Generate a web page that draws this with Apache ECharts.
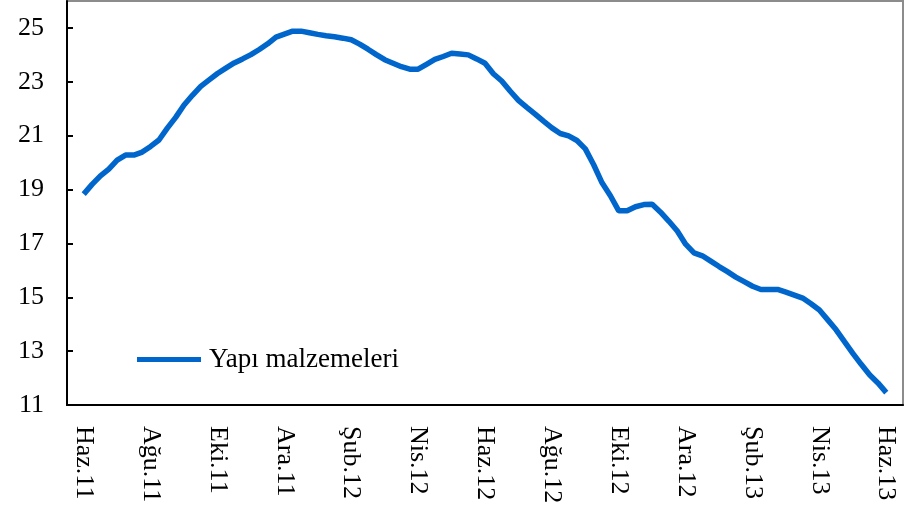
<!DOCTYPE html>
<html>
<head>
<meta charset="utf-8">
<title>Yapı malzemeleri</title>
<script src="https://cdn.jsdelivr.net/npm/echarts@6/dist/echarts.min.js"></script>
<style>
  html, body { margin: 0; padding: 0; background: #fff; }
  #chart { width: 919px; height: 512px; }
</style>
</head>
<body>
<div id="chart"></div>
<script>
// monthly categories, a label on every second one
const months = [
  'Haz.11', 'Tem.11', 'Ağu.11', 'Eyl.11', 'Eki.11', 'Kas.11', 'Ara.11',
  'Oca.12', 'Şub.12', 'Mar.12', 'Nis.12', 'May.12', 'Haz.12', 'Tem.12',
  'Ağu.12', 'Eyl.12', 'Eki.12', 'Kas.12', 'Ara.12', 'Oca.13', 'Şub.13',
  'Mar.13', 'Nis.13', 'May.13', 'Haz.13'
]
const yTicks = [11, 13, 15, 17, 19, 21, 23, 25]
// readings taken four times a month, Haz.11 .. Haz.13
const stepsPerMonth = 4
const values = [
  18.83, 19.19, 19.51, 19.76, 20.09, 20.28, 20.28, 20.39, 20.60, 20.84,
  21.28, 21.68, 22.14, 22.50, 22.83, 23.07, 23.31, 23.51, 23.70, 23.85,
  24.01, 24.20, 24.41, 24.66, 24.77, 24.88, 24.88, 24.82, 24.76, 24.71,
  24.67, 24.62, 24.56, 24.40, 24.21, 24.01, 23.82, 23.69, 23.56, 23.47,
  23.47, 23.65, 23.83, 23.94, 24.06, 24.03, 24.00, 23.85, 23.69, 23.30,
  23.03, 22.66, 22.31, 22.05, 21.80, 21.54, 21.29, 21.08, 20.99, 20.82,
  20.51, 19.92, 19.25, 18.77, 18.21, 18.21, 18.36, 18.44, 18.45, 18.16,
  17.82, 17.46, 16.97, 16.65, 16.54, 16.34, 16.14, 15.95, 15.75, 15.58,
  15.41, 15.29, 15.29, 15.29, 15.19, 15.08, 14.97, 14.76, 14.53, 14.16,
  13.79, 13.35, 12.92, 12.51, 12.12, 11.82, 11.46
]

const font = "'Liberation Serif', 'Times New Roman', serif"
const myChart = echarts.init(document.getElementById('chart'))

let option = {
  animation: false,
  grid: {
    left: 67,
    right: 16,
    top: 1,
    bottom: 107,
    show: true,
    borderColor: '#8c8c8c',
    borderWidth: 2
  },
  legend: {
    data: [{ name: 'Yapı malzemeleri', icon: 'rect' }],
    left: 132,
    top: 341,
    itemWidth: 64,
    itemHeight: 5,
    textStyle: {
      fontFamily: font,
      fontSize: 27,
      color: '#000',
      padding: [0, 0, 0, 3]
    }
  },
  xAxis: [{
    type: 'category',
    data: months,
    boundaryGap: true,
    axisLine: {
      onZero: false,
      lineStyle: { color: '#000', width: 2 }
    },
    axisTick: {
      interval: 1,
      length: 7,
      lineStyle: { color: '#000', width: 2 }
    },
    axisLabel: {
      interval: 1,
      rotate: -90,
      margin: 21,
      color: '#000',
      fontFamily: font,
      fontSize: 26
    },
    splitLine: { show: false }
  }, {
    // hidden axis that places the sub-monthly readings
    type: 'value',
    show: false,
    min: -0.5,
    max: months.length - 0.5
  }],
  yAxis: {
    type: 'value',
    min: 11,
    max: 26,
    interval: 2,
    axisLine: {
      show: true,
      onZero: false,
      lineStyle: { color: '#000', width: 2 }
    },
    axisTick: {
      show: true,
      inside: true,
      length: 6,
      customValues: yTicks,
      lineStyle: { color: '#000', width: 2 }
    },
    axisLabel: {
      margin: 23,
      customValues: yTicks,
      color: '#000',
      fontFamily: font,
      fontSize: 26
    },
    splitLine: { show: false }
  },
  series: [{
    name: 'Yapı malzemeleri',
    type: 'line',
    xAxisIndex: 1,
    symbol: 'none',
    data: values.map((v, i) => [i / stepsPerMonth, v]),
    lineStyle: {
      color: '#0066cc',
      width: 5.5
    },
    itemStyle: { color: '#0066cc' }
  }]
}
myChart.setOption(option)
</script>
</body>
</html>
